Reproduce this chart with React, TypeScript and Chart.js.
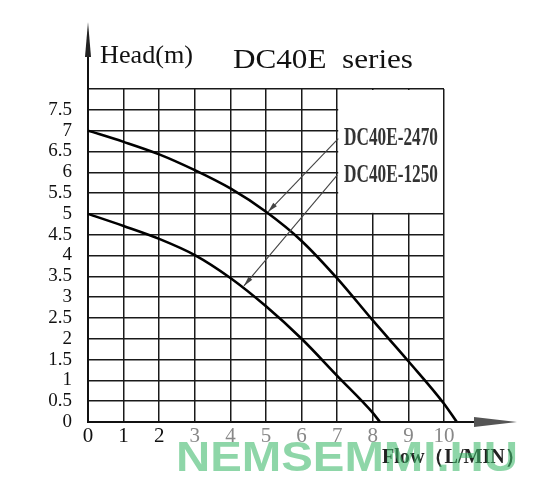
import React, { useEffect, useRef } from 'react';
import { Chart, registerables } from 'chart.js';
Chart.register(...registerables);

const flow2470 = [0, 1, 2, 3, 4, 5, 6, 7, 8, 9, 10, 10.36];
const head2470 = [7, 6.73, 6.43, 6.05, 5.61, 5.05, 4.35, 3.45, 2.44, 1.46, 0.44, 0];
const flow1250 = [0, 1, 2, 3, 4, 5, 6, 7, 8, 8.2];
const head1250 = [5, 4.71, 4.4, 4.01, 3.46, 2.78, 2.0, 1.11, 0.22, 0];
const seriesNames = ['DC40E-2470', 'DC40E-1250'];
const leaderFrom = [[7.03, 6.81], [7.0, 5.93]];
const leaderTo = [[5.06, 5.05], [4.38, 3.27]];
const boxX = [7, 10];
const boxY = [5, 8];
const flowMax = 10;
const titleText = 'DC40E  series';
const yAxisTitle = 'Head(m)';
const xAxisTitle = 'Flow（L/MIN）';
const watermark = 'NEMSEMMI.HU';

const SERIF = "'Liberation Serif', 'Times New Roman', serif";

function fitText(ctx: CanvasRenderingContext2D, text: string, font: string, x: number, y: number, w: number, color: string) {
  ctx.save();
  ctx.font = font;
  const m = ctx.measureText(text).width;
  ctx.translate(x, y);
  ctx.scale(w / m, 1);
  ctx.fillStyle = color;
  ctx.textAlign = 'left';
  ctx.textBaseline = 'alphabetic';
  ctx.fillText(text, 0, 0);
  ctx.restore();
}

const decor = {
  id: 'decor',
  beforeDatasetsDraw(chart: any) {
    const ctx = chart.ctx as CanvasRenderingContext2D;
    const xs = chart.scales.x, ys = chart.scales.y;
    const x0 = xs.getPixelForValue(boxX[0]), x1 = xs.getPixelForValue(boxX[1]);
    const y0 = ys.getPixelForValue(boxY[1]), y1 = ys.getPixelForValue(boxY[0]);
    ctx.save();
    ctx.fillStyle = '#fff';
    ctx.fillRect(x0 + 1, y0 + 1, x1 - x0 - 2, y1 - y0 - 2);
    ctx.restore();
  },
  afterDatasetsDraw(chart: any) {
    const ctx = chart.ctx as CanvasRenderingContext2D;
    const xs = chart.scales.x, ys = chart.scales.y;
    const ca = chart.chartArea;
    ctx.save();
    ctx.strokeStyle = '#111';
    ctx.lineWidth = 2;
    ctx.beginPath();
    ctx.moveTo(ca.left, ca.top);
    ctx.lineTo(ca.left, 40);
    ctx.moveTo(ca.right, ca.bottom);
    ctx.lineTo(478, ca.bottom);
    ctx.stroke();
    ctx.fillStyle = '#222';
    ctx.beginPath();
    ctx.moveTo(ca.left, 22);
    ctx.lineTo(ca.left + 3, 57);
    ctx.lineTo(ca.left - 3, 57);
    ctx.closePath();
    ctx.fill();
    ctx.fillStyle = '#555';
    ctx.beginPath();
    ctx.moveTo(474, ca.bottom - 5);
    ctx.lineTo(517, ca.bottom);
    ctx.lineTo(474, ca.bottom + 5);
    ctx.closePath();
    ctx.fill();
    ctx.strokeStyle = '#444';
    ctx.fillStyle = '#444';
    ctx.lineWidth = 1.1;
    for (let i = 0; i < leaderFrom.length; i++) {
      const fx = xs.getPixelForValue(leaderFrom[i][0]);
      const fy = ys.getPixelForValue(leaderFrom[i][1]);
      const tx = xs.getPixelForValue(leaderTo[i][0]);
      const ty = ys.getPixelForValue(leaderTo[i][1]);
      ctx.beginPath();
      ctx.moveTo(fx, fy);
      ctx.lineTo(tx, ty);
      ctx.stroke();
      const a = Math.atan2(ty - fy, tx - fx);
      const L = 10, hw = 2.5;
      const bx = tx - L * Math.cos(a), by = ty - L * Math.sin(a);
      ctx.beginPath();
      ctx.moveTo(tx, ty);
      ctx.lineTo(bx + hw * Math.sin(a), by - hw * Math.cos(a));
      ctx.lineTo(bx - hw * Math.sin(a), by + hw * Math.cos(a));
      ctx.closePath();
      ctx.fill();
    }
    ctx.restore();
    fitText(ctx, seriesNames[0], `bold 25px ${SERIF}`, 344, 145, 94, '#333');
    fitText(ctx, seriesNames[1], `bold 25px ${SERIF}`, 344, 182, 94, '#333');
    fitText(ctx, yAxisTitle, `25px ${SERIF}`, 100, 63, 93, '#111');
    fitText(ctx, titleText, `27px ${SERIF}`, 233, 68, 180, '#111');
    fitText(ctx, xAxisTitle, `bold 20px ${SERIF}`, 382, 463, 143, '#222');
    fitText(ctx, watermark, `bold 42px 'Liberation Sans', Arial, sans-serif`, 176, 471, 342, 'rgba(60,185,105,0.58)');
  },
};

export default function App() {
  const ref = useRef<HTMLCanvasElement>(null);
  useEffect(() => {
    document.body.style.margin = '0';
    const canvas = ref.current!;
    const chart = new Chart(canvas, {
      type: 'line',
      data: {
        datasets: [
          {
            label: seriesNames[0],
            data: flow2470.map((x, i) => ({ x, y: head2470[i] })),
            borderColor: '#000',
            borderWidth: 2.6,
            pointRadius: 0,
            cubicInterpolationMode: 'monotone',
            clip: false,
          },
          {
            label: seriesNames[1],
            data: flow1250.map((x, i) => ({ x, y: head1250[i] })),
            borderColor: '#000',
            borderWidth: 2.6,
            pointRadius: 0,
            cubicInterpolationMode: 'monotone',
            clip: false,
          },
        ],
      },
      options: {
        animation: false,
        responsive: false,
        layout: { padding: { top: 89, right: 95, left: 0, bottom: 0 } },
        plugins: { legend: { display: false }, tooltip: { enabled: false } },
        scales: {
          x: {
            type: 'linear',
            min: 0,
            afterDataLimits: (s: any) => { s.max = flowMax; },
            afterFit: (s: any) => { s.height = 67; },
            ticks: {
              stepSize: 1,
              padding: 2,
              autoSkip: false,
              font: { family: SERIF, size: 21 },
              color: (c: any) => (c.tick && c.tick.value >= 3 ? '#888' : '#111'),
              maxRotation: 0,
            },
            grid: { color: '#1a1a1a', lineWidth: 1.5, drawTicks: false },
            border: { display: true, color: '#111', width: 2 },
          },
          y: {
            type: 'linear',
            min: 0,
            max: 8,
            afterFit: (s: any) => { s.width = 88; },
            ticks: {
              stepSize: 0.5,
              padding: 16,
              autoSkip: false,
              font: { family: SERIF, size: 19 },
              color: '#111',
              callback: (v: any) => (v === 8 ? '' : String(v)),
            },
            grid: { color: '#1a1a1a', lineWidth: 1.5, drawTicks: false },
            border: { display: true, color: '#111', width: 2 },
          },
        },
      },
      plugins: [decor],
    } as any);
    return () => chart.destroy();
  }, []);
  return <canvas ref={ref} width={539} height={489} style={{ display: 'block' }} />;
}
